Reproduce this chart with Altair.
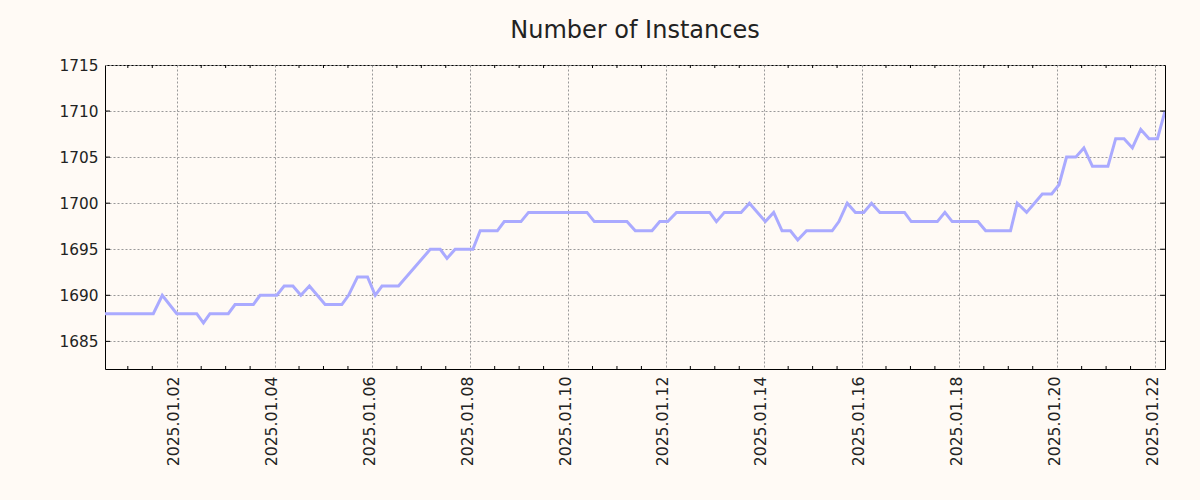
import altair as alt
import pandas as pd

# ---- data (vertices of the line) ----
times = [
    "2024-12-31T12:48", "2025-01-01T12:30", "2025-01-01T16:54", "2025-01-02T00:00",
    "2025-01-02T09:48", "2025-01-02T13:06", "2025-01-02T16:18", "2025-01-03T01:18",
    "2025-01-03T04:36", "2025-01-03T13:36", "2025-01-03T16:54", "2025-01-04T01:06",
    "2025-01-04T04:42", "2025-01-04T09:00", "2025-01-04T12:54", "2025-01-04T17:06",
    "2025-01-05T00:48", "2025-01-05T09:00", "2025-01-05T12:18", "2025-01-05T16:42",
    "2025-01-05T21:36", "2025-01-06T01:24", "2025-01-06T04:42", "2025-01-06T12:48",
    "2025-01-07T04:24", "2025-01-07T09:18", "2025-01-07T12:36", "2025-01-07T16:36",
    "2025-01-08T01:18", "2025-01-08T04:54", "2025-01-08T13:18", "2025-01-08T16:42",
    "2025-01-09T00:54", "2025-01-09T04:36", "2025-01-10T09:18", "2025-01-10T12:54",
    "2025-01-11T04:54", "2025-01-11T09:00", "2025-01-11T17:12", "2025-01-11T21:00",
    "2025-01-12T00:54", "2025-01-12T05:12", "2025-01-12T21:30", "2025-01-13T00:48",
    "2025-01-13T04:42", "2025-01-13T12:54", "2025-01-13T17:00", "2025-01-14T00:48",
    "2025-01-14T04:54", "2025-01-14T09:00", "2025-01-14T13:06", "2025-01-14T16:42",
    "2025-01-14T21:00", "2025-01-15T09:36", "2025-01-15T12:54", "2025-01-15T17:00",
    "2025-01-15T21:00", "2025-01-16T01:06", "2025-01-16T04:54", "2025-01-16T09:00",
    "2025-01-16T21:06", "2025-01-17T00:24", "2025-01-17T13:12", "2025-01-17T16:54",
    "2025-01-17T20:30", "2025-01-18T09:06", "2025-01-18T12:54", "2025-01-19T01:06",
    "2025-01-19T04:24", "2025-01-19T09:00", "2025-01-19T16:42", "2025-01-19T21:18",
    "2025-01-20T00:54", "2025-01-20T04:36", "2025-01-20T09:06", "2025-01-20T13:06",
    "2025-01-20T17:18", "2025-01-21T00:54", "2025-01-21T04:42", "2025-01-21T08:48",
    "2025-01-21T12:54", "2025-01-21T17:00", "2025-01-21T21:06", "2025-01-22T01:12",
    "2025-01-22T04:54",
]
instances = [
    1688, 1688, 1690, 1688,
    1688, 1687, 1688, 1688,
    1689, 1689, 1690, 1690,
    1691, 1691, 1690, 1691,
    1689, 1689, 1690, 1692,
    1692, 1690, 1691, 1691,
    1695, 1695, 1694, 1695,
    1695, 1697, 1697, 1698,
    1698, 1699, 1699, 1698,
    1698, 1697, 1697, 1698,
    1698, 1699, 1699, 1698,
    1699, 1699, 1700, 1698,
    1699, 1697, 1697, 1696,
    1697, 1697, 1698, 1700,
    1699, 1699, 1700, 1699,
    1699, 1698, 1698, 1699,
    1698, 1698, 1697, 1697,
    1700, 1699, 1701, 1701,
    1702, 1705, 1705, 1706,
    1704, 1704, 1707, 1707,
    1706, 1708, 1707, 1707,
    1710,
]

y_tick_values = [1685, 1690, 1695, 1700, 1705, 1710, 1715]
y_domain = [1682, 1715]
x_label_days = [2, 4, 6, 8, 10, 12, 14, 16, 18, 20, 22]

TITLE = "Number of Instances"
FONT = "DejaVu Sans"
W, H = 1060, 304

df = pd.DataFrame({"time": times, "instances": instances})

x_domain = [
    alt.DateTime(year=2024, month=12, date=31, hours=12, minutes=48),
    alt.DateTime(year=2025, month=1, date=22, hours=4, minutes=54),
]
x_values = [alt.DateTime(year=2025, month=1, date=d) for d in x_label_days]

xscale = alt.Scale(domain=x_domain)
yscale = alt.Scale(domain=y_domain, nice=False, zero=False)

x_axis = alt.Axis(values=x_values, format="%Y.%m.%d", labelAngle=270,
                  labelFlush=False, labelOverlap=False, labelBound=False,
                  labelOffset=-3, labelFontSize=15.7)
y_axis = alt.Axis(values=y_tick_values, format="d", labelFlush=False,
                  labelOverlap=False, labelFontSize=15.3)

line = alt.Chart(df).mark_line(color="#aaaaff", strokeWidth=3, clip=True).encode(
    x=alt.X("time:T", scale=xscale, title=None, axis=x_axis),
    y=alt.Y("instances:Q", scale=yscale, title=None, axis=y_axis),
)

# minor ticks every 12 hours (inward), excluding labelled days
minor = [t for t in pd.date_range("2025-01-01", "2025-01-22", freq="12h")
         if not (t.hour == 0 and t.day in x_label_days)]
mdf = pd.DataFrame({"time": [t.strftime("%Y-%m-%dT%H:%M") for t in minor]})

bottom_ticks = alt.Chart(mdf).mark_rule(color="#000", strokeWidth=1).encode(
    x=alt.X("time:T", scale=xscale, title=None, axis=x_axis),
    y=alt.value(H - 3), y2=alt.value(H),
)
top_ticks = alt.Chart(mdf).mark_rule(color="#000", strokeWidth=1).encode(
    x=alt.X("time:T", scale=xscale, title=None, axis=x_axis),
    y=alt.value(0), y2=alt.value(3),
)

ydf = pd.DataFrame({"instances": y_tick_values[:-1]})
left_ticks = alt.Chart(ydf).mark_rule(color="#000", strokeWidth=1).encode(
    y=alt.Y("instances:Q", scale=yscale, title=None, axis=y_axis),
    x=alt.value(0), x2=alt.value(5),
)
right_ticks = alt.Chart(ydf).mark_rule(color="#000", strokeWidth=1).encode(
    y=alt.Y("instances:Q", scale=yscale, title=None, axis=y_axis),
    x=alt.value(W - 5), x2=alt.value(W),
)

chart = alt.layer(line, bottom_ticks, top_ticks, left_ticks, right_ticks).properties(
    width=W, height=H,
    title=alt.TitleParams(TITLE, font=FONT, fontSize=24, fontWeight="normal",
                          color="#222222", anchor="middle", baseline="alphabetic",
                          offset=5, dy=9),
    autosize=alt.AutoSizeParams(type="none"),
    padding={"left": 105, "top": 65, "right": 35, "bottom": 131},
    background="#fffaf5",
).configure_view(
    stroke="#000000", strokeWidth=1,
).configure_axis(
    domain=False, ticks=False, grid=True, gridColor="#999999", gridDash=[2, 2],
    gridWidth=1, labelFont=FONT, labelColor="#222222",
    labelPadding=7,
)

chart.save("out.html", embed_options={"renderer": "svg", "actions": False})
